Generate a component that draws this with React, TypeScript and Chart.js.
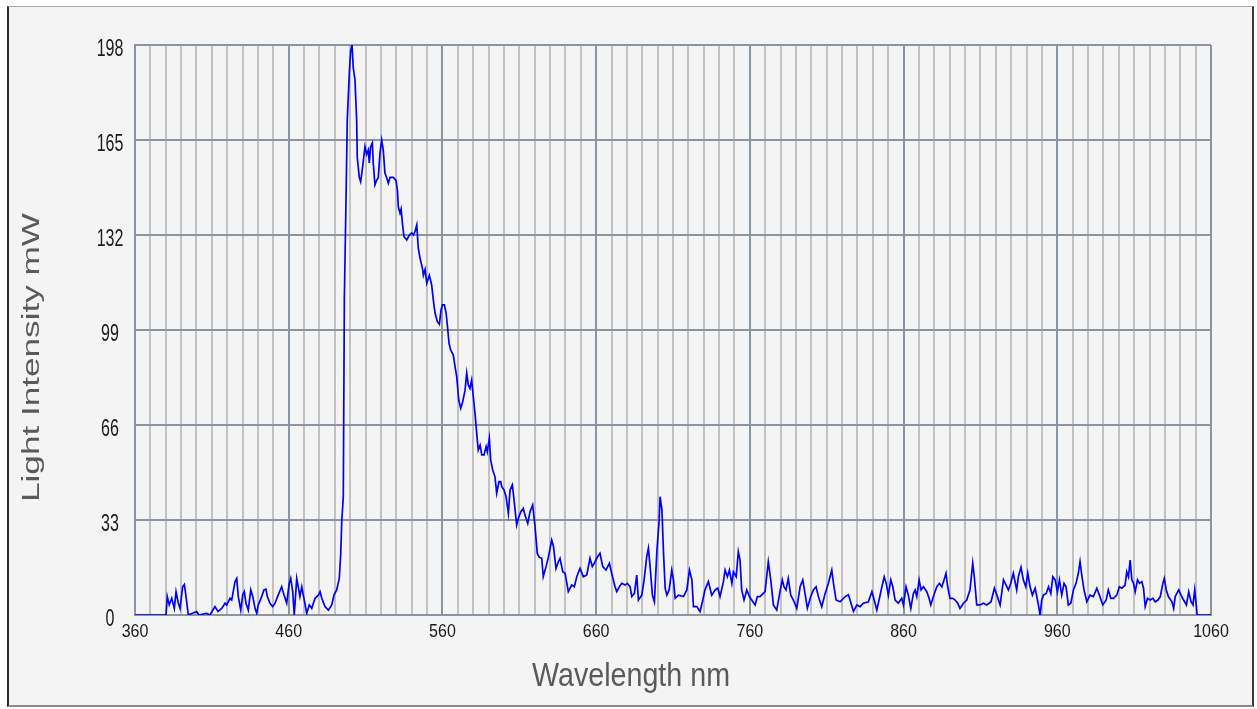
import React, { useEffect, useRef } from "react";
import { Chart, registerables } from "chart.js";

Chart.register(...registerables);

const wavelengths: number[] = [
  360, 380.2, 381.0, 382.3, 383.9, 385.6, 386.7, 388.2, 389.3, 391.0, 392.1, 393.2, 394.7, 400.1, 401.6, 406.6, 408.8,
  412.0, 414.0, 416.4, 418.6, 419.7, 421.8, 422.9, 425.1, 426.2, 427.2, 428.8, 430.1, 431.1, 432.2, 433.7, 435.3,
  436.6, 438.1, 439.2, 440.2, 442.4, 443.9, 445.2, 446.1, 447.8, 449.6, 451.1, 453.2, 455.4, 456.9, 458.7, 460.2,
  461.3, 462.6, 463.6, 465.2, 466.2, 467.3, 468.5, 469.9, 471.7, 473.4, 475.0, 477.1, 479.3, 480.4, 481.5, 483.6,
  485.8, 488.0, 489.5, 491.2, 492.9, 493.8, 494.5, 495.5, 496.2, 497.3, 498.1, 499.4, 500.3, 501.2, 502.0, 503.1,
  504.2, 504.6, 505.9, 506.8, 508.1, 509.6, 510.7, 511.8, 512.4, 513.3, 514.4, 515.0, 516.1, 517.2, 518.3, 519.4,
  520.5, 521.5, 522.6, 523.7, 524.8, 525.9, 528.0, 529.8, 530.7, 531.3, 532.4, 533.1, 534.2, 535.0, 536.8, 538.5,
  540.0, 541.1, 542.2, 543.3, 544.3, 545.4, 546.5, 547.2, 547.6, 548.7, 549.8, 551.5, 552.4, 553.0, 554.1, 555.2,
  556.7, 558.0, 559.1, 560.0, 561.3, 562.4, 563.4, 564.3, 565.4, 567.1, 568.2, 569.3, 570.6, 571.9, 573.2, 574.7,
  575.8, 576.8, 577.9, 579.0, 580.1, 581.2, 582.3, 583.3, 584.5, 585.6, 587.1, 588.4, 589.2, 590.5, 591.4, 592.7,
  594.2, 595.3, 596.8, 597.9, 598.6, 600.1, 601.4, 602.9, 604.0, 605.5, 606.6, 608.3, 609.4, 611.0, 612.6, 613.7,
  615.5, 617.0, 618.7, 620.2, 621.7, 623.0, 624.6, 625.6, 627.4, 628.9, 631.1, 632.2, 633.9, 635.4, 636.5, 638.3,
  639.8, 641.9, 644.1, 645.8, 647.4, 649.5, 651.7, 653.9, 656.0, 657.5, 659.3, 661.0, 662.5, 664.3, 666.4, 668.6,
  670.1, 672.3, 673.4, 675.1, 676.7, 678.8, 680.3, 682.1, 683.2, 684.9, 686.4, 687.5, 689.7, 691.2, 692.9, 694.0,
  695.1, 696.6, 697.9, 699.5, 701.0, 701.6, 702.8, 703.8, 704.9, 706.0, 707.5, 709.2, 710.3, 711.4, 713.6, 716.8,
  719.0, 720.7, 722.3, 723.3, 725.5, 727.6, 729.4, 730.8, 733.0, 735.2, 737.4, 739.1, 740.6, 742.8, 743.9, 745.4,
  746.7, 748.3, 749.3, 751.1, 752.5, 753.6, 754.7, 756.2, 758.0, 759.7, 761.2, 763.4, 764.9, 766.6, 769.9, 772.0,
  773.6, 775.3, 777.5, 779.8, 781.1, 782.2, 783.5, 785.0, 786.6, 788.3, 790.5, 792.7, 794.4, 795.9, 797.4, 799.6,
  801.3, 803.1, 804.6, 806.8, 809.0, 811.1, 813.3, 814.4, 816.1, 818.7, 822.0, 824.1, 825.2, 827.4, 829.6, 831.7,
  833.9, 837.1, 839.4, 840.9, 842.6, 844.3, 845.9, 847.4, 848.7, 850.1, 851.7, 853.0, 854.5, 856.6, 858.8, 859.9,
  861.6, 863.1, 864.7, 866.4, 867.5, 868.6, 870.1, 871.4, 872.9, 875.1, 876.6, 877.7, 879.4, 881.6, 883.3, 884.9,
  886.3, 887.6, 888.7, 890.2, 892.0, 893.5, 895.2, 896.7, 898.9, 901.1, 903.2, 905.0, 906.0, 907.6, 909.8, 911.9,
  914.1, 916.9, 919.1, 920.7, 922.8, 925.0, 926.7, 928.2, 929.7, 931.4, 932.5, 933.6, 934.7, 936.4, 937.9, 939.5,
  940.8, 942.3, 943.8, 945.6, 947.7, 948.8, 949.9, 951.0, 952.8, 954.3, 955.8, 957.1, 958.6, 960.1, 961.4, 962.9,
  964.4, 965.7, 967.2, 968.8, 970.5, 972.2, 973.7, 974.8, 975.9, 977.4, 979.2, 981.3, 983.5, 985.7, 987.4, 989.6,
  991.8, 993.2, 994.8, 996.5, 998.7, 1000.4, 1002.0, 1004.1, 1005.2, 1006.3, 1007.4, 1008.5, 1009.6, 1010.7, 1012.2, 1013.5,
  1015.0, 1016.1, 1017.2, 1018.7, 1020.4, 1022.2, 1023.7, 1025.5, 1027.0, 1028.7, 1029.6, 1030.9, 1032.3, 1034.6, 1035.7, 1036.7,
  1039.0, 1040.5, 1042.2, 1044.0, 1045.5, 1047.0, 1048.3, 1049.4, 1050.5, 1051.0, 1060,
];

const intensities: number[] = [
  0, 0, 6.4, 3.5, 5.8, 2.3, 8.1, 4.1, 2.3, 9.8, 10.6, 6.4, 0, 1.2, 0, 0.6, 0,
  2.9, 1.2, 2.3, 4.1, 3.5, 5.8, 5.2, 11.6, 12.7, 6.4, 1.7, 7.0, 8.1, 4.1, 1.7, 8.7,
  6.4, 2.3, 0.6, 3.5, 6.4, 8.7, 9.0, 6.4, 4.1, 2.9, 4.1, 7.0, 9.8, 7.0, 4.1, 10.6,
  12.7, 8.1, 0, 12.7, 9.8, 6.4, 9.8, 5.8, 0.6, 3.5, 2.3, 5.8, 6.9, 8.1, 5.8, 2.9,
  1.7, 3.5, 7.0, 8.7, 12.7, 20.8, 32.4, 41, 110, 145, 172, 188, 196, 198, 190, 186,
  172, 159, 152, 150.5, 155.7, 162.7, 160, 161.5, 157, 162.7, 164, 157, 149.4, 151, 152, 160.5,
  165, 161.5, 153.5, 152, 150, 152, 152, 151, 147.6, 141.8, 139.6, 141, 134.9, 131.4, 130.3, 132,
  132.7, 132, 133.2, 135.5, 127.4, 124, 121.6, 119.8, 118, 120, 115.2, 118, 116, 114.6, 109.4, 104.9,
  101.9, 101, 106, 107.7, 107.7, 104.9, 99.6, 94.4, 92, 90.3, 86.3, 82.8, 74.7, 71.8, 74.1, 78,
  84, 80, 78.7, 81.6, 75.8, 70, 63.1, 57.3, 59, 55.6, 55.6, 58.5, 56.7, 61.4, 53.8, 50.4,
  48, 42.3, 46.3, 46.3, 44.6, 43.4, 41.1, 35.3, 43.4, 45.2, 39.9, 31.3, 33.6, 35.9, 37, 34.7,
  31.8, 35.9, 38.2, 31, 21.4, 20, 19.7, 13.3, 16.8, 20, 26, 24, 16.2, 18.5, 19.7, 15,
  14.5, 8.1, 10.4, 9.8, 13.3, 16.2, 13.3, 13.9, 19.7, 16.8, 18.5, 20.3, 21.4, 16.8, 15.6, 18,
  14.5, 9.8, 8.1, 9.8, 11, 10.4, 11, 9.8, 6.4, 7.5, 13.9, 5.2, 6.9, 12.2, 20.3, 23.2,
  16.8, 6.9, 4.6, 22, 33, 41.1, 36.5, 22, 9.3, 6.9, 8.7, 15.6, 12.2, 5.8, 6.9, 6.4,
  8.7, 15.6, 12.2, 2.9, 2.9, 1.2, 5.2, 8.7, 11.6, 6.9, 8.7, 9.3, 6.4, 11.6, 15.6, 13.3,
  15.6, 11, 15, 13.3, 22, 19.1, 8.7, 5.2, 8.7, 6.4, 5.2, 3.5, 6.4, 6.4, 8.1, 18.5,
  12.2, 3.5, 1.7, 8.7, 12.2, 9.8, 8.7, 12.7, 6.9, 5.2, 2.3, 9.8, 12.2, 7.5, 2.3, 6.4,
  8.7, 9.8, 6.4, 2.9, 7.5, 11, 15.6, 11, 5.2, 4.6, 6.4, 7, 5.2, 1.2, 3.5, 2.9,
  4.1, 4.6, 8.1, 5.2, 1.7, 5.8, 9.8, 13.3, 11, 6.9, 12.2, 9.8, 5.2, 4.1, 5.8, 3.5,
  9.8, 6.9, 2.3, 7.5, 8.7, 6.4, 12.2, 8.7, 9.8, 8.1, 5.8, 3.5, 6.4, 9.8, 11, 9.8,
  12.2, 14.5, 9.8, 5.8, 5.8, 5.2, 4.1, 2.3, 4.1, 5.2, 8.7, 18, 13.3, 3.5, 3.5, 4.1,
  3.5, 4.6, 9.3, 6.9, 3.5, 12.2, 10.4, 8.7, 11, 14.5, 11.6, 8.7, 13.3, 16.6, 12.2, 9.8,
  14.5, 9.8, 6.9, 9.3, 3.5, 0, 5.2, 6.9, 7.5, 9.8, 7.5, 13.3, 12.2, 8.1, 12.2, 6.9,
  11, 9.8, 3.5, 4.1, 8.7, 11, 14.5, 18.5, 13.9, 8.7, 4.6, 6.9, 6.4, 9.3, 6.9, 3.5,
  5.2, 8.7, 5.8, 5.8, 6.9, 9.8, 9.3, 10.4, 15, 13.3, 19.1, 12.2, 11, 8.1, 12.2, 11,
  11.6, 9.3, 2.9, 5.8, 5.2, 5.8, 4.6, 5.2, 6.4, 11, 12.7, 8.7, 6.4, 4.6, 2.3, 6.4,
  8.7, 6.9, 5.2, 3.5, 8.1, 4.6, 3.5, 8.7, 2.9, 0, 0,
];

const xMin = 360;
const xMax = 1060;
const xStep = 10;
const xLabelStep = 100;
const yMin = 0;
const yMax = 198;
const yStep = 33;
const xTitle = "Wavelength nm";
const yTitle = "Light Intensity mW";

const MAJOR = "#8b95a1";
const MINOR = "#c2c2c2";

export default function App() {
  const canvasRef = useRef<HTMLCanvasElement | null>(null);

  useEffect(() => {
    const canvas = canvasRef.current;
    if (!canvas) return;

    const textPlugin = {
      id: "customText",
      afterDraw(chart: any) {
        const ctx = chart.ctx as CanvasRenderingContext2D;
        const ys = chart.scales.y;
        const xs = chart.scales.x;
        ctx.save();
        ctx.fillStyle = "#1a1a1a";
        ctx.font = '16px "Liberation Sans", Arial, sans-serif';
        ctx.textAlign = "center";
        ctx.textBaseline = "alphabetic";
        // y tick labels (tall, narrow digits)
        for (const t of ys.ticks) {
          const py = ys.getPixelForValue(t.value);
          ctx.save();
          ctx.translate(110, py + 11);
          ctx.scale(1, 1.5);
          ctx.fillText(String(t.value), 0, 0);
          ctx.restore();
        }
        // x tick labels
        for (const t of xs.ticks) {
          const v = Math.round(t.value);
          if ((v - xMin) % xLabelStep !== 0) continue;
          const px = xs.getPixelForValue(v);
          ctx.save();
          ctx.translate(px, 637);
          ctx.scale(1, 1.2);
          ctx.fillText(String(v), 0, 0);
          ctx.restore();
        }
        // x title
        ctx.fillStyle = "#5a5a5a";
        ctx.font = '28px "Liberation Sans", Arial, sans-serif';
        let w = ctx.measureText(xTitle).width;
        ctx.save();
        ctx.translate(631, 686);
        ctx.scale(198 / w, 1.18);
        ctx.fillText(xTitle, 0, 0);
        ctx.restore();
        // y title
        ctx.font = '23px "Liberation Sans", Arial, sans-serif';
        w = ctx.measureText(yTitle).width;
        ctx.save();
        ctx.translate(38.5, 357.5);
        ctx.rotate(-Math.PI / 2);
        ctx.scale(289 / w, 1);
        ctx.fillText(yTitle, 0, 0);
        ctx.restore();
        ctx.restore();
      },
    };

    const points = wavelengths.map((x, i) => ({ x, y: intensities[i] }));

    const chart = new Chart(canvas, {
      type: "line",
      data: {
        datasets: [
          {
            data: points,
            borderColor: "#0000ff",
            borderWidth: 1.7,
            pointRadius: 0,
            tension: 0,
            fill: false,
          },
        ],
      },
      options: {
        animation: false,
        responsive: false,
        events: [],
        layout: { padding: { left: 0, top: 45, right: 46, bottom: 0 } },
        plugins: { legend: { display: false }, tooltip: { enabled: false }, title: { display: false } },
        scales: {
          x: {
            type: "linear",
            min: xMin,
            max: xMax,
            afterFit: (s: any) => {
              s.height = 94;
            },
            border: { display: true, color: MAJOR, width: 2 },
            grid: {
              drawTicks: false,
              lineWidth: 2,
              color: (c: any) =>
                Math.round(c.tick.value - xMin) % xLabelStep === 0 ? MAJOR : MINOR,
            },
            ticks: {
              stepSize: xStep,
              autoSkip: false,
              maxTicksLimit: 200,
              display: false,
            },
          },
          y: {
            type: "linear",
            min: yMin,
            max: yMax,
            afterFit: (s: any) => {
              s.width = 135;
            },
            border: { display: true, color: MAJOR, width: 2 },
            grid: { drawTicks: false, lineWidth: 2, color: MAJOR },
            ticks: { stepSize: yStep, display: false },
          },
        },
      },
      plugins: [textPlugin],
    });

    return () => chart.destroy();
  }, []);

  return (
    <div style={{ position: "fixed", left: 0, top: 0, width: 1257, height: 709, background: "#ffffff" }}>
      <div
        style={{
          position: "absolute",
          left: 7,
          top: 6,
          width: 1247,
          height: 701,
          boxSizing: "border-box",
          background: "#f4f4f4",
          borderLeft: "2px solid #2a2a2a",
          borderRight: "2px solid #3a3a3a",
          borderTop: "1px solid #a8a8a8",
          borderBottom: "2px solid #8a8a8a",
        }}
      />
      <canvas
        ref={canvasRef}
        width={1257}
        height={709}
        style={{ position: "absolute", left: 0, top: 0, width: 1257, height: 709 }}
      />
    </div>
  );
}
